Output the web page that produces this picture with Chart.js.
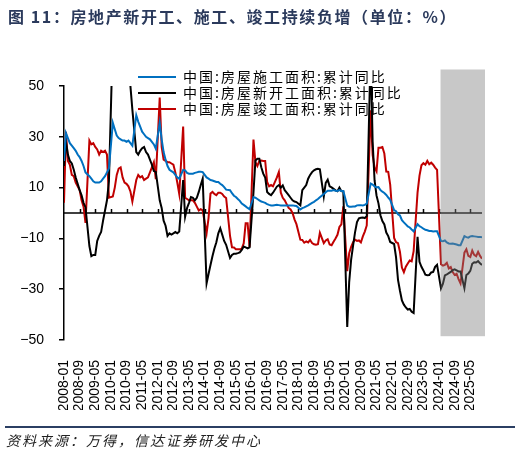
<!DOCTYPE html>
<html><head><meta charset="utf-8">
<script src="https://cdn.jsdelivr.net/npm/chart.js@4.4.1/dist/chart.umd.min.js"></script>
<style>
html,body{margin:0;padding:0;background:#fff;}
#wrap{position:relative;width:521px;height:457px;overflow:hidden;}
#c{position:absolute;left:0;top:0;}
#title{position:absolute;left:8px;top:4px;line-height:24px;font:bold 16px "Noto Sans CJK SC";letter-spacing:1.6px;color:#2b3a5c;white-space:nowrap;}
#rule{position:absolute;left:5px;top:426px;width:510px;height:2px;background:#2b3f63;}
#src{position:absolute;left:6px;top:430px;line-height:20px;font:italic 14px "Noto Sans CJK SC";letter-spacing:2px;color:#222;white-space:nowrap;}
</style></head>
<body><div id="wrap">
<canvas id="c" width="521" height="457"></canvas>
<div id="title">图 11：房地产新开工、施工、竣工持续负增（单位：%）</div>
<div id="rule"></div>
<div id="src">资料来源：万得，信达证券研发中心</div>
</div>
<script>
// categories: monthly 2008-01 .. 2025-11
const years = [2008,2009,2010,2011,2012,2013,2014,2015,2016,2017,2018,2019,2020,2021,2022,2023,2024,2025];
const months = [];
years.forEach(y => { for (let m = 1; m <= 12; m++) { if (y === 2025 && m > 11) break; months.push(y + '-' + String(m).padStart(2,'0')); } });

const seriesNames = ['中国:房屋施工面积:累计同比','中国:房屋新开工面积:累计同比','中国:房屋竣工面积:累计同比'];

// 施工面积 累计同比 (%)
const construction = [
 20.5,31.5,29.5,27.5,26.5,25.5,24.5,23,22,20.5,18.5,16.0,
 null,14.5,13.5,12.5,12,12,12,12.5,13.5,14.5,16,17.5,
 null,35.5,33,30.5,29.5,29,28.5,28.5,28,28.5,27.5,26.5,
 null,38.5,36,34,32,31,30,29.5,29,28,27,25.3,
 null,35.5,29,24,21,18.5,17,16.5,16,15,14,13.5,
 null,17,16.8,15.8,15.5,15.5,15.5,15.8,16,16.2,16.2,16.1,
 null,14,13.5,13,12.8,12.5,12.2,12.2,11.5,11,10.2,9.2,
 null,9,7.8,6.8,6.3,5.5,4.8,3.7,3.2,2.6,2,1.5,
 null,6.2,6,5.5,5,4.5,4.3,4,3.5,3.2,3,3,
 null,3.2,3.1,3,3,3,3,3,3,3,2.9,2.8,
 null,1.4,1.9,2.2,2.6,3,3.5,4,4.4,5,5.5,6.2,
 null,7.5,8.2,8.8,8.8,8.8,9,8.8,8.7,9,8.7,8.7,
 null,2.9,2.5,2.5,2.6,2.6,3,3.1,3.1,3,3.2,3.7,
 null,11.6,11.2,10.5,10.1,10.2,9,8.4,7.9,7.1,6.1,5.2,
 null,1.1,0.7,-0.5,-1,-2.8,-3.7,-4.5,-5.3,-5.7,-6.5,-7.2,
 null,-4.4,-5.2,-5.6,-6.2,-6.6,-6.8,-7.1,-7.1,-7.3,-7.2,-7.2,
 null,-11,-11.1,-10.8,-11.6,-12,-12.1,-12,-12.2,-12.4,-12.7,-12.7,
 null,-9.1,-9.5,-9.7,-9.2,-9.1,-9.2,-9.3,-9.4,-9.4,-9.6
];

// 新开工面积 累计同比 (%)
const newStarts = [
 18.5,28,23,20.5,19.5,17,14,11.5,9,7,4,2.3,
 null,-13,-17,-16.5,-16.5,-11,-9,-7.5,-3,1,5,12.5,
 null,69,60,62,71,68,72,74,70,64,50,40.7,
 null,24,23,24.5,25.5,26,24,23,21,19,16.5,16.2,
 null,5,2,-3,-5,-9,-8,-8.5,-8,-7.5,-8,-7.3,
 null,13,-1.5,2,4,6.3,6,5,6,8.3,11,13.5,
 null,-27.7,-24,-20.5,-17,-14,-11.5,-8,-6,-8.5,-11,-12.5,
 null,-17.7,-16.5,-16,-16,-15.8,-15.5,-14.5,-13.2,-13.5,-13.9,-13.5,
 null,8,20.7,21.4,21.4,18,15.5,14,8.3,7.5,7,8,
 null,10.4,11,10,10.9,9,8,7,6,5,4.5,4.3,
 null,3,9,10,11,13.5,15,16.1,16.8,17.2,17.4,17.2,
 null,6.5,11.9,13.1,10.5,10.1,9.5,8.9,8.6,10,8.6,8.5,
 null,-44.9,-27.2,-18.4,-12.8,-7.6,-3.6,-2.1,-1.9,-1.8,-2.0,-1.2,
 null,64.3,28.2,12.8,6.9,3.8,-0.9,-3.2,-4.5,-7.7,-9.1,-11.4,
 null,-12.2,-17.5,-26.3,-30.6,-34.4,-36.1,-37.2,-38.0,-37.8,-38.9,-39.4,
 null,-9.4,-19.2,-21.2,-22.6,-24.3,-24.5,-24.4,-23.4,-23.2,-21.2,-20.4,
 null,-29.7,-27.8,-24.6,-24.2,-23.7,-23.2,-22.5,-22.2,-22.6,-23,-23,
 null,-29.6,-24.4,-23.8,-22.8,-20,-19.4,-19.5,-18.9,-19.8,-20.5
];

// 竣工面积 累计同比 (%)
const completions = [
 4,32,20.5,19,15,14.5,12,10.5,9,5,2.5,-3.9,
 null,28.5,27,27.5,26,25,23,24.5,24,24.5,23,6,
 null,6.5,10,15,17.5,18,14,12,11.5,10.5,8.5,4.5,
 null,13,15,14,14.5,13,13.5,14,16,18,20,13.3,
 null,45.5,26,21,20.5,20,20,19.5,19,16,12,7.5,
 null,34,6,5.5,5,5,5,4,2.5,1,1.5,1,
 null,-8,-2,7.7,8.3,7.5,7,8,8,7.5,6.5,5.9,
 null,-9,-13.5,-13.6,-14.3,-14.3,-14.3,-14,-12,-4,-4,-13.5,
 null,28.9,20,18.5,20.5,20.7,20.5,20.5,12.2,10.5,11,10.5,
 null,14,16.1,8,6,5,3.5,2,1.4,0,-2.5,-4.4,
 null,-10.5,-10.6,-11.7,-11.2,-11.6,-10.6,-11.8,-12.3,-12.5,-12.3,-7.8,
 null,-11.9,-10.8,-10.3,-12.4,-12.7,-11.3,-10,-8.6,-5.5,-4.5,2.6,
 null,-22.9,-15.8,-13.3,-11.5,-10.5,-11,-10.8,-11.6,-9.2,-7.3,-4.9,
 null,40.4,22.9,17.9,16.4,25.7,25.7,26,23.4,16.3,16.2,11.2,
 null,-9.8,-11.5,-11.9,-15.3,-21.5,-23.3,-21.1,-19.9,-18.7,-19,-15,
 null,8,14.7,18.8,19.6,19,20.5,19.2,19.8,19,17.9,17,
 null,-20.2,-20.7,-20.4,-19.6,-21.8,-21.3,-23.2,-24.4,-23.9,-26,-27.7,
 null,-15.6,-14.3,-16.9,-17.3,-14.8,-16.5,-17,-15.3,-16.9,-18
];

const labelEvery = 8;
const shadeFrom = '2024-01';
const shadeTop = 56.5, shadeBottom = -48.5;

const zeroAxis = {
  id: 'zeroAxis',
  beforeDatasetsDraw(chart) {
    const {ctx, chartArea: a, scales: {x, y}} = chart;
    const y0 = y.getPixelForValue(0);
    ctx.save();
    ctx.strokeStyle = '#000'; ctx.lineWidth = 1.5;
    ctx.beginPath();
    ctx.moveTo(a.left, y0); ctx.lineTo(a.right, y0);
    for (let i = labelEvery; i < months.length; i += labelEvery) {
      const px = Math.round(x.getPixelForValue(i)) + 0.5;
      ctx.moveTo(px, y0); ctx.lineTo(px, y0 - 4);
    }
    ctx.stroke();
    ctx.restore();
  }
};

const legendDraw = {
  id: 'legendDraw',
  beforeDatasetsDraw(chart) {
    const {ctx} = chart;
    ctx.save();
    ctx.font = '14px "Noto Sans CJK SC"';
    try { ctx.letterSpacing = '2px'; } catch (e) {}
    ctx.textBaseline = 'middle';
    chart.data.datasets.forEach((ds, i) => {
      const cy = 77 + i * 16;
      ctx.strokeStyle = ds.borderColor; ctx.lineWidth = 2;
      ctx.beginPath(); ctx.moveTo(138, cy); ctx.lineTo(176, cy); ctx.stroke();
      ctx.fillStyle = '#000';
      ctx.fillText(ds.label, 183, cy);
    });
    ctx.restore();
  }
};

const shade = {
  id: 'shade',
  afterDatasetsDraw(chart) {
    const {ctx, chartArea: a, scales: {x, y}} = chart;
    const x0 = x.getPixelForValue(months.indexOf(shadeFrom)) + 1.5;
    const yt = y.getPixelForValue(shadeTop), yb = y.getPixelForValue(shadeBottom);
    ctx.save();
    ctx.fillStyle = 'rgba(128,128,128,0.43)';
    ctx.fillRect(x0, yt, a.right + 3 - x0, yb - yt);
    ctx.restore();
  }
};

new Chart(document.getElementById('c'), {
  type: 'line',
  data: {
    labels: months,
    datasets: [
      {label: seriesNames[0], data: construction, borderColor: '#0070C0', backgroundColor: '#0070C0'},
      {label: seriesNames[1], data: newStarts, borderColor: '#000000', backgroundColor: '#000000'},
      {label: seriesNames[2], data: completions, borderColor: '#C00000', backgroundColor: '#C00000'}
    ]
  },
  options: {
    responsive: false, animation: false, devicePixelRatio: 1,
    layout: {padding: {top: 86, right: 39, bottom: 47, left: 0}},
    datasets: {line: {spanGaps: true, clip: 0, pointRadius: 0, borderWidth: 2, tension: 0}},
    plugins: {legend: {display: false}, tooltip: {enabled: false}},
    scales: {
      x: {
        type: 'category', offset: false,
        grid: {display: false}, border: {display: false},
        ticks: {autoSkip: false, maxRotation: 90, minRotation: 90, padding: 12, color: '#000',
          font: {family: '"Liberation Sans", Arial', size: 14},
          callback: (v, i) => (i % labelEvery === 0 ? months[i] : null)},
        afterFit: s => { s.height = 70; }
      },
      y: {
        min: -50, max: 50,
        ticks: {stepSize: 20, padding: 15, color: '#000', font: {family: '"Liberation Sans", Arial', size: 14},
          callback: v => (v < 0 ? '\u2212' + Math.abs(v) : String(v))},
        grid: {drawOnChartArea: false, drawTicks: true, tickLength: 5, color: '#000', lineWidth: 1.5},
        border: {display: true, color: '#000', width: 1.5},
        afterFit: s => { s.width = 64; }
      }
    }
  },
  plugins: [zeroAxis, legendDraw, shade]
});
</script>
</body></html>
